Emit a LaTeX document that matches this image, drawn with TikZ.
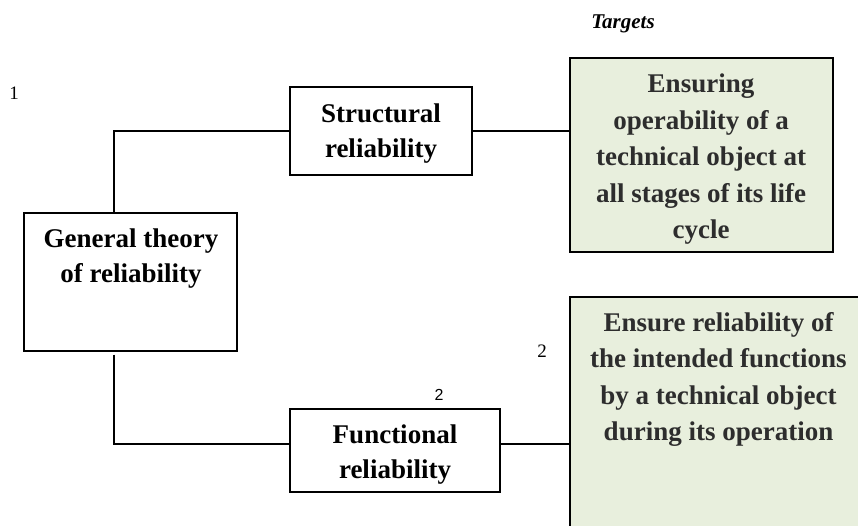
\documentclass[tikz,border=0pt]{standalone}
\usepackage{fontspec}
\setmainfont{Liberation Serif}
\newfontfamily\plainsans{Liberation Sans}
\definecolor{targetfill}{RGB}{232,239,221}
\definecolor{ink}{RGB}{45,45,45}

\begin{document}
\begin{tikzpicture}[x=1pt,y=-1pt,
  box/.style={draw, line width=1.4pt, rectangle, inner sep=0pt},
  target/.style={box, fill=targetfill, line width=1.8pt},
  boxtext/.style={font=\bfseries\fontsize{27}{35}\selectfont, align=center, inner sep=0pt, anchor=north},
  targettext/.style={boxtext, font=\bfseries\fontsize{27}{36.5}\selectfont, text=ink},
  num/.style={font=\fontsize{19}{21}\selectfont, inner sep=0pt, anchor=base},
  link/.style={line width=1.3pt}]
\useasboundingbox (0,0) rectangle (858,526);
\clip (0,0) rectangle (858,526);

% blocks
\node[box, minimum width=213, minimum height=138] (gen) at (130.5,282) {};
\node[box, minimum width=182, minimum height=88] (str) at (381,131) {};
\node[box, minimum width=210, minimum height=83] (fun) at (395,450.5) {};
\node[target, minimum width=263, minimum height=194] (tg1) at (701.5,155) {};
\node[target, minimum width=310, minimum height=263] (tg2) at (725,428.5) {};

% block texts
\node[boxtext] (gentext) at (131,228.5) {General theory\\of reliability};
\node[boxtext] (strtext) at (381,104) {Structural\\reliability};
\node[boxtext] (funtext) at (395,424.5) {Functional\\reliability};
\node[targettext] (tg1text) at (701,74) {Ensuring\\operability of a\\technical object at\\all stages of its life\\cycle};
\node[targettext] (tg2text) at (718.5,312) {Ensure reliability of\\the intended functions\\by a technical object\\during its operation};

% captions and numbers
\node[font=\bfseries\itshape\fontsize{21}{24}\selectfont, inner sep=0pt, anchor=base] (targets) at (623,29) {Targets};
\node[num] (n1) at (14,100) {1};
\node[num] (n2a) at (542,357) {2};
\node[num, font=\plainsans\fontsize{16}{18}\selectfont] (n2b) at (439,400) {2};

% connectors
\draw[link] ([xshift=-16.5pt]gen.north) |- (str.west);
\draw[link] (str.east) -- (str.east -| tg1.west);
\draw[link] ([xshift=-16.5pt,yshift=-3pt]gen.south) |- ([yshift=6.5pt]fun.west);
\draw[link] ([yshift=6.5pt]fun.east) -- ([yshift=6.5pt]fun.east -| tg2.west);
\end{tikzpicture}
\end{document}
